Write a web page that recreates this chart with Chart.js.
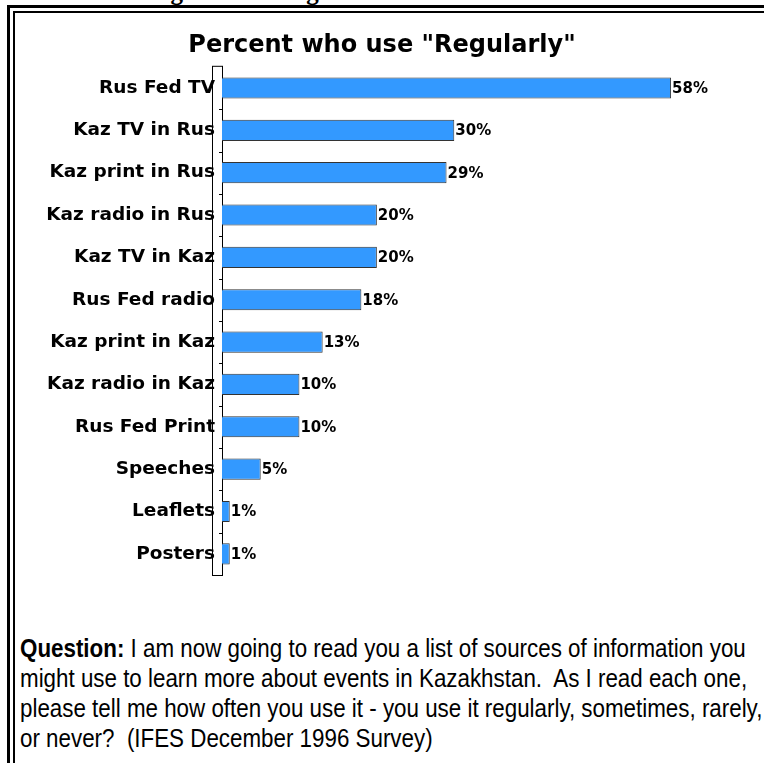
<!DOCTYPE html>
<html>
<head>
<meta charset="utf-8">
<script src="https://cdn.jsdelivr.net/npm/chart.js@4.4.1/dist/chart.umd.min.js"></script>
<style>
    html, body { margin: 0; padding: 0; background: #fff; }
    body { width: 764px; height: 763px; position: relative; overflow: hidden; }
    .fig-caption {
        position: absolute; left: 0; width: 764px; top: -20px; height: 24px;
        font: bold 25px "Liberation Serif", "Times New Roman", serif;
        text-align: center; line-height: 24px; white-space: nowrap;
    }
    .rule { position: absolute; background: #000; }
    #chartWrap { position: absolute; left: 0; top: 0; width: 764px; height: 600px; }
    /* no narrow font available, so squeeze a regular sans */
    .question {
        position: absolute; left: 20px; top: 633px;
        font: 26px "Liberation Sans", Arial, sans-serif;
        line-height: 30px; white-space: pre; color: #000;
        transform: scaleX(0.86); transform-origin: 0 0;
    }
</style>
</head>
<body>
<div class="fig-caption">Figure XII: Regular Sources of Information</div>

<!-- double frame, open to the right and bottom -->
<div class="rule" style="left:7px; top:5px; width:757px; height:3px;"></div>
<div class="rule" style="left:7px; top:5px; width:3px; height:758px;"></div>
<div class="rule" style="left:13px; top:11px; width:751px; height:2px;"></div>
<div class="rule" style="left:13px; top:11px; width:2px; height:752px;"></div>

<div id="chartWrap"><canvas id="regularChart" width="764" height="600"></canvas></div>

<div class="question"><b>Question:</b> I am now going to read you a list of sources of information you
might use to learn more about events in Kazakhstan.  As I read each one,
please tell me how often you use it - you use it regularly, sometimes, rarely,
or never?  (IFES December 1996 Survey)</div>

<script>
// Sources, sorted by share of respondents who use them regularly
const sources = ['Rus Fed TV', 'Kaz TV in Rus', 'Kaz print in Rus', 'Kaz radio in Rus', 'Kaz TV in Kaz',
    'Rus Fed radio', 'Kaz print in Kaz', 'Kaz radio in Kaz', 'Rus Fed Print', 'Speeches', 'Leaflets', 'Posters'];
const regularPct = [58, 30, 29, 20, 20, 18, 13, 10, 10, 5, 1, 1];
const chartTitle = 'Percent who use "Regularly"';

const AXIS_LEFT = 222;

// Thin 3D wall behind the category axis
const wallPlugin = {
    id: 'wall',
    beforeDraw(chart) {
        const { ctx, chartArea } = chart;
        ctx.save();
        ctx.fillStyle = '#fff';
        ctx.strokeStyle = '#000';
        ctx.lineWidth = 1;
        ctx.fillRect(chartArea.left - 10, chartArea.top - 1, 10, chartArea.bottom - chartArea.top + 1);
        ctx.strokeRect(chartArea.left - 9.5, chartArea.top - 0.5, 10, chartArea.bottom - chartArea.top + 1);
        // small ticks between categories
        const step = (chartArea.bottom - chartArea.top) / sources.length;
        ctx.beginPath();
        for (let i = 1; i < sources.length; i++) {
            const y = Math.round(chartArea.top + i * step) + 0.5;
            ctx.moveTo(chartArea.left - 3, y);
            ctx.lineTo(chartArea.left, y);
        }
        ctx.stroke();
        ctx.restore();
    }
};

// Percent labels at the end of each bar
const valueLabels = {
    id: 'valueLabels',
    afterDatasetsDraw(chart) {
        const { ctx } = chart;
        const meta = chart.getDatasetMeta(0);
        ctx.save();
        ctx.font = 'bold 15px "DejaVu Sans", sans-serif';
        ctx.fillStyle = '#000';
        ctx.textAlign = 'left';
        ctx.textBaseline = 'middle';
        meta.data.forEach((bar, i) => {
            ctx.fillText(regularPct[i] + '%', bar.x + 1, bar.y + 1);
        });
        ctx.restore();
    }
};

const ctx = document.getElementById('regularChart').getContext('2d');
const regularChart = new Chart(ctx, {
    type: 'bar',
    data: {
        labels: sources,
        datasets: [{
            data: regularPct,
            backgroundColor: '#3399ff',
            borderColor: '#333',
            borderWidth: 1,
            borderSkipped: 'left',
            categoryPercentage: 1,
            barPercentage: 0.5
        }]
    },
    options: {
        indexAxis: 'y',
        responsive: false,
        animation: false,
        layout: {
            padding: { left: 0, right: 0, top: 21, bottom: 25 }
        },
        plugins: {
            legend: { display: false },
            tooltip: { enabled: false },
            title: {
                display: true,
                text: chartTitle,
                color: '#000',
                font: { family: '"DejaVu Sans", sans-serif', size: 24, weight: 'bold', lineHeight: 1.2 },
                padding: { top: 10, bottom: 7 }
            }
        },
        scales: {
            x: {
                display: false,
                min: 0,
                max: 70
            },
            y: {
                afterFit(scale) { scale.width = AXIS_LEFT; },
                grid: { display: false, drawTicks: false },
                border: { display: false },
                ticks: {
                    color: '#000',
                    padding: 7,
                    font: { family: '"DejaVu Sans", sans-serif', size: 18.5, weight: 'bold' }
                }
            }
        }
    },
    plugins: [wallPlugin, valueLabels]
});
</script>
</body>
</html>
